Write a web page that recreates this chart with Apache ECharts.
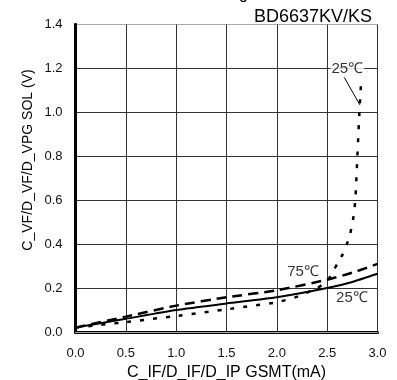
<!DOCTYPE html>
<html>
<head>
<meta charset="utf-8">
<script src="https://cdn.jsdelivr.net/npm/echarts@6/dist/echarts.min.js"></script>
<style>html,body{margin:0;padding:0;background:#fff;}#c{width:397px;height:380px;}</style>
</head>
<body>
<div id="c"></div>
<script>
// Data
var xTicks = [0, 0.5, 1.0, 1.5, 2.0, 2.5, 3.0];
var yTicks = [0, 0.2, 0.4, 0.6, 0.8, 1.0, 1.2, 1.4];
var solid25 = [[0,0.02],[0.5,0.06],[1.0,0.1],[1.5,0.13],[2.0,0.158],[2.5,0.2],[2.75,0.228],[3.0,0.265]];
var dashed75 = [[0,0.02],[0.5,0.07],[1.0,0.12],[1.5,0.158],[2.0,0.19],[2.5,0.238],[2.75,0.27],[3.0,0.31]];
var dotted25 = [[0,0.02],[0.5,0.045],[1.0,0.073],[1.5,0.103],[2.0,0.135],[2.2,0.16],[2.4,0.2],[2.5,0.23],[2.55,0.27],[2.6,0.31],[2.65,0.35],[2.7,0.405],[2.73,0.45],[2.76,0.52],[2.78,0.6],[2.8,0.8],[2.82,1.0],[2.84,1.16]];
var labelTexts = ['25℃', '75℃', '25℃'];
var labelPos = [[2.7, 1.2], [2.26, 0.275], [2.746, 0.155]];
var leader = [[2.67, 1.159], [2.825, 1.034]];
var titleText = 'Forward Voltage';
var partText = 'BD6637KV/KS';
var xName = 'C_IF/D_IF/D_IP GSMT(mA)';
var yName = 'C_VF/D_VF/D_VPG SOL (V)';

var font = 'Liberation Sans, Arial, sans-serif';
var chart = echarts.init(document.getElementById('c'), null, {renderer: 'canvas'});
var gridColors = yTicks.map(function (v, i) { return i === yTicks.length - 1 ? '#aaa' : '#333'; });
var option = {
  animation: false,
  grid: {left: 75.5, right: 19.5, top: 24.5, bottom: 48, containLabel: false, outerBoundsMode: 'none'},
  xAxis: [{
    type: 'value', min: 0, max: 3, interval: 0.5,
    name: xName, nameLocation: 'middle', nameGap: 25,
    nameTextStyle: {fontFamily: font, fontSize: 16, color: '#000'},
    axisLine: {show: true, lineStyle: {color: '#000', width: 3}},
    axisTick: {show: false},
    axisLabel: {fontFamily: font, fontSize: 13, color: '#111', margin: 15,
      formatter: function (v) { return v.toFixed(1); }},
    splitLine: {show: true, lineStyle: {color: '#333', width: 1}}
  }, {
    type: 'value', min: 0, max: 3, position: 'top',
    axisLine: {show: true, lineStyle: {color: '#aaa', width: 1}},
    axisTick: {show: false}, axisLabel: {show: false}, splitLine: {show: false}
  }],
  yAxis: [{
    type: 'value', min: 0, max: 1.4, interval: 0.2,
    axisLine: {show: true, lineStyle: {color: '#000', width: 3}},
    axisTick: {show: false},
    axisLabel: {fontFamily: font, fontSize: 13, color: '#111', margin: 13,
      formatter: function (v) { return v.toFixed(1); }},
    splitLine: {show: true, lineStyle: {color: gridColors, width: 1}}
  }, {
    type: 'value', min: 0, max: 1.4, interval: 0.2, position: 'right',
    axisLine: {show: true, lineStyle: {color: '#000', width: 3}},
    axisTick: {show: false}, axisLabel: {show: false}, splitLine: {show: false}
  }],
  series: [{
    type: 'line', data: solid25, symbol: 'none', smooth: 0.2,
    lineStyle: {color: '#000', width: 2, type: 'solid'}, z: 5
  }, {
    type: 'line', data: dashed75, symbol: 'none', smooth: 0.2,
    lineStyle: {color: '#000', width: 2.5, type: [10, 6]}, z: 5
  }, {
    type: 'line', data: dotted25, symbol: 'none', smooth: 0.1,
    lineStyle: {color: '#000', width: 2.5, type: [4, 9]}, z: 5
  }, {
    type: 'line', data: leader, symbol: 'none',
    lineStyle: {color: '#000', width: 1}, z: 6
  }, {
    type: 'scatter', symbolSize: 0, z: 10,
    data: labelPos.map(function (p, i) {
      return {value: p, label: {show: true, formatter: labelTexts[i],
        backgroundColor: i === 0 ? '#fff' : 'transparent', padding: [0, 1, 0, 1]}};
    }),
    label: {show: true, position: 'inside', fontFamily: font, fontSize: 15, color: '#000'}
  }],
  graphic: [{
    type: 'text', left: 'center', top: -13,
    style: {text: titleText, font: '16px ' + font, fill: '#000'}
  }, {
    type: 'text', right: 25, top: 8,
    style: {text: partText, font: '18px ' + font, fill: '#000'}
  }, {
    type: 'text', x: 28, y: 160, rotation: Math.PI / 2,
    style: {text: yName, font: '14px ' + font, fill: '#000', align: 'center', verticalAlign: 'middle'}
  }]
};
chart.setOption(option);
</script>
</body>
</html>
